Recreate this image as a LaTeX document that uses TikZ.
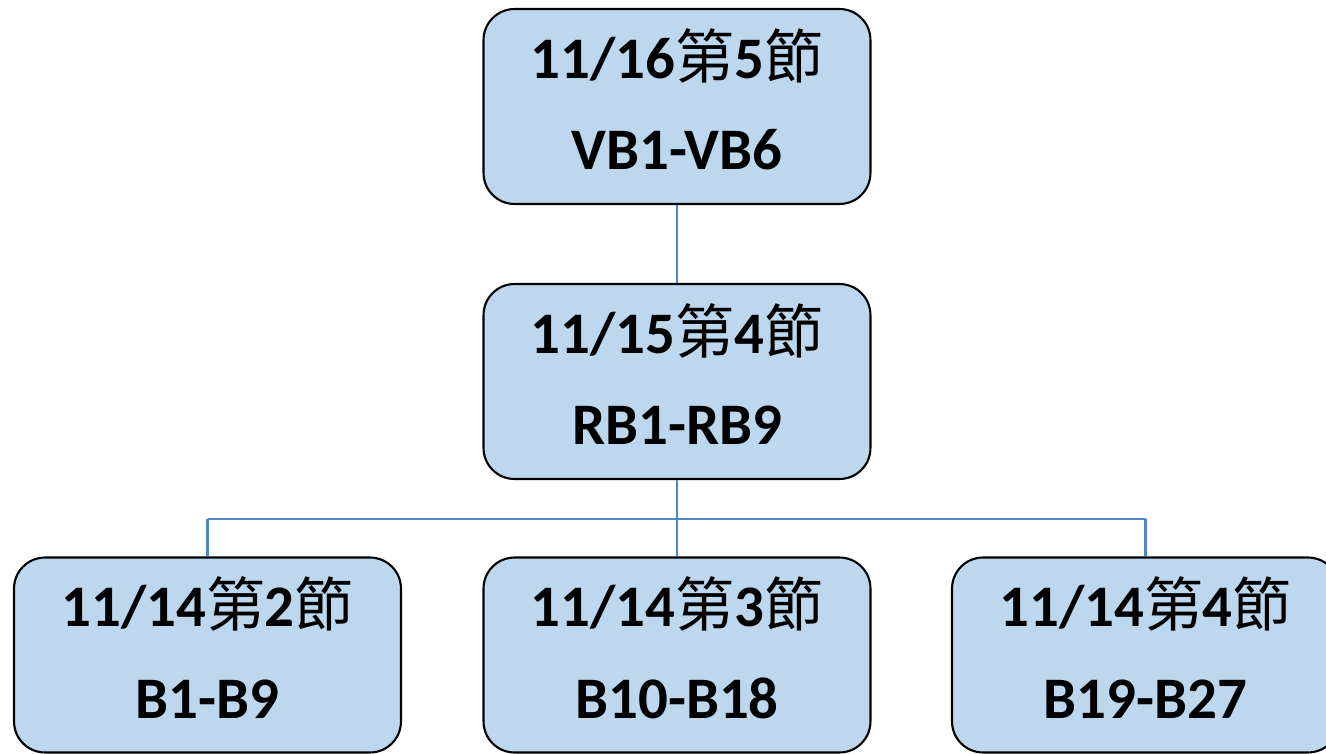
\documentclass[tikz,border=0pt]{standalone}
\usepackage{fontspec}
\setmainfont{Carlito}
\newfontfamily\cjk{Noto Sans CJK TC}
\definecolor{boxfill}{RGB}{189,215,238}
\definecolor{linkblue}{RGB}{79,134,196}
\begin{document}
\begin{tikzpicture}[x=0.02cm,y=-0.02cm,
  box/.style={draw=black,line width=1.2pt,fill=boxfill,rounded corners=0.62cm,
    minimum width=7.74cm,minimum height=3.9cm,inner sep=0pt},
  txt/.style={font=\fontsize{33.5}{40}\selectfont\bfseries,inner sep=0pt,anchor=base},
  link/.style={draw=linkblue,line width=1.4pt}]
\useasboundingbox (0,0) rectangle (1326,754);
\begin{scope}
\clip (0,0) rectangle (1326,754);
\node[box] (top) at (677,106.5) {};
\node[box] (mid) at (677,381.5) {};
\node[box] (b1) at (207.5,655) {};
\node[box] (b2) at (677,655) {};
\node[box] (b3) at (1145.5,655) {};
\coordinate (j1) at (207.5,519);
\coordinate (j3) at (1145.5,519);
\draw[link] (top.south) -- (mid.north);
\draw[link] (mid.south) -- (b2.north);
\draw[link] (j1) -- (j3);
\draw[link] (j1) -- (b1.north);
\draw[link] (j3) -- (b3.north);
\node[txt] (t1) at ([yshift=0.57cm]top.center) {11/16{\cjk\mdseries 第}5{\cjk\mdseries 節}};
\node[txt] (t2) at ([yshift=-1.27cm]top.center) {VB1-VB6};
\node[txt] (m1) at ([yshift=0.57cm]mid.center) {11/15{\cjk\mdseries 第}4{\cjk\mdseries 節}};
\node[txt] (m2) at ([yshift=-1.27cm]mid.center) {RB1-RB9};
\node[txt] (a1) at ([yshift=0.57cm]b1.center) {11/14{\cjk\mdseries 第}2{\cjk\mdseries 節}};
\node[txt] (a2) at ([yshift=-1.27cm]b1.center) {B1-B9};
\node[txt] (c1) at ([yshift=0.57cm]b2.center) {11/14{\cjk\mdseries 第}3{\cjk\mdseries 節}};
\node[txt] (c2) at ([yshift=-1.27cm]b2.center) {B10-B18};
\node[txt] (d1) at ([yshift=0.57cm]b3.center) {11/14{\cjk\mdseries 第}4{\cjk\mdseries 節}};
\node[txt] (d2) at ([yshift=-1.27cm]b3.center) {B19-B27};
\end{scope}
\end{tikzpicture}
\end{document}
